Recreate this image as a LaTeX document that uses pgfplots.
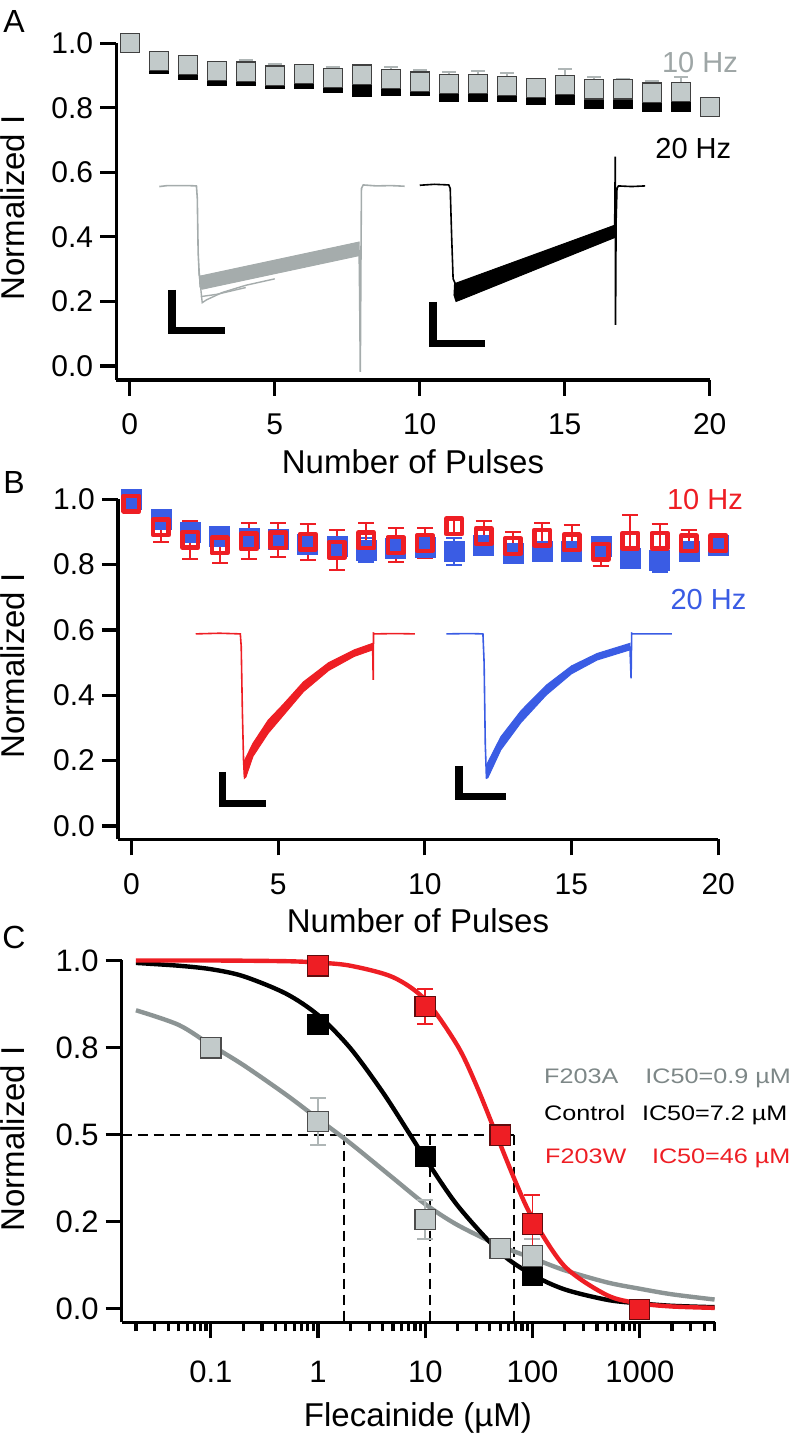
\documentclass[border=0pt]{standalone}
\usepackage{pgfplots}
\pgfplotsset{compat=1.18}
\usepackage{fontspec}
\setmainfont{Liberation Sans}
\definecolor{gfill}{RGB}{194,202,202}
\definecolor{gtext}{RGB}{158,166,166}
\definecolor{gtrace}{RGB}{165,172,172}
\definecolor{gerr}{RGB}{175,182,182}
\definecolor{gcurve}{RGB}{140,148,148}
\definecolor{glab}{RGB}{125,135,135}
\definecolor{myred}{RGB}{238,30,36}
\definecolor{myblue}{RGB}{58,92,228}
\pgfplotsset{
  panel/.style={
    scale only axis, clip=false, anchor=south west,
    axis lines=left, axis line style={-, line width=1.6pt},
    tick align=outside, major tick length=8pt, minor tick length=4.5pt,
    tick style={line width=1.6pt, black},
    tick label style={font=\fontsize{15}{18}\selectfont},
    xticklabels={},
  },
}
\newcommand{\lab}{\fontsize{16.5}{19}\selectfont}
\newcommand{\tl}{\fontsize{15}{18}\selectfont}
\newcommand{\tlc}{\fontsize{15.5}{18}\selectfont}
\begin{document}
\begin{tikzpicture}
\useasboundingbox (0pt,0pt) rectangle (396.5pt,716.5pt);
% ================= Panel A =================
\begin{axis}[panel, at={(58.1pt,526.5pt)}, width=296.8pt, height=168.35pt,
  xmin=-0.466, xmax=20, ymin=-0.0434, ymax=1,
  xtick={0,5,10,15,20},
  ytick={0,0.2,0.4,0.6,0.8,1}, yticklabels={0.0,0.2,0.4,0.6,0.8,1.0}]
% gray trace
\addplot[gtrace, line width=0.8pt] coordinates {(1.02,0.556) (1.3,0.559) (2.0,0.559) (2.3,0.558) (2.33,0.52) (2.36,0.35) (2.4,0.28) (2.5,0.272) (3.5,0.292) (5,0.322) (6.5,0.353) (7.91,0.382)};
\addplot[gtrace, fill=gtrace, line width=0.5pt] coordinates {(2.4,0.278) (7.91,0.384) (7.91,0.342) (2.5,0.238) (2.42,0.245)} -- cycle;
\addplot[gtrace, line width=0.7pt] coordinates {(2.38,0.3) (2.5,0.196) (2.65,0.205) (3.2,0.228) (4.0,0.25) (5,0.27)};
\addplot[gtrace, line width=0.7pt] coordinates {(2.45,0.215) (3,0.222) (4,0.243)};
\addplot[gtrace, line width=0.8pt] coordinates {(7.91,0.36) (7.93,0.2) (7.95,-0.018) (7.97,0.3) (7.99,0.55) (8.05,0.561) (8.5,0.558) (9.0,0.559) (9.48,0.557)};
% black trace
\addplot[black, line width=0.8pt] coordinates {(10.0,0.56) (10.5,0.563) (11.0,0.561) (11.05,0.55) (11.1,0.4) (11.15,0.27) (11.25,0.25) (13,0.31) (15,0.375) (16.72,0.434)};
\addplot[black, fill=black, line width=0.5pt] coordinates {(11.2,0.255) (16.72,0.436) (16.72,0.398) (11.4,0.205) (11.25,0.2) (11.18,0.22)} -- cycle;
\addplot[black, line width=0.8pt] coordinates {(16.72,0.42) (16.74,0.649) (16.75,0.127) (16.77,0.45) (16.8,0.55) (16.85,0.558) (17.3,0.556) (17.77,0.558)};
% scale bars
\addplot[black, line width=3.75pt, line join=miter] coordinates {(1.46,0.2355) (1.46,0.1106) (3.29,0.1106)};
\addplot[black, line width=3.75pt, line join=miter] coordinates {(10.45,0.199) (10.45,0.0696) (12.24,0.0696)};
% markers 20 Hz
\addplot[only marks, mark=square*, mark size=4.8pt, mark options={fill=black, draw=black, line width=0.4pt}]
 table[row sep=\\]{x y\\ 0 1.000\\ 1 0.935\\ 2 0.917\\ 3 0.900\\ 4 0.898\\ 5 0.890\\ 6 0.890\\ 7 0.878\\ 8 0.865\\ 9 0.867\\ 10 0.867\\ 11 0.851\\ 12 0.849\\ 13 0.851\\ 14 0.841\\ 15 0.839\\ 16 0.828\\ 17 0.828\\ 18 0.818\\ 19 0.818\\};
% markers 10 Hz
\addplot[only marks, mark=square*, mark size=4.8pt, mark options={fill=gfill, draw=black!75, line width=0.6pt},
  error bars/.cd, y dir=both, y explicit, error bar style={gerr, line width=1pt}, error mark options={rotate=90, gerr, line width=1pt, mark size=3.5pt}]
 table[row sep=\\, y error index=2]{x y e\\ 0 1.000 0\\ 1 0.945 0.015\\ 2 0.933 0.015\\ 3 0.915 0.015\\ 4 0.912 0.036\\ 5 0.900 0.036\\ 6 0.904 0.015\\ 7 0.893 0.033\\ 8 0.903 0.015\\ 9 0.890 0.037\\ 10 0.881 0.035\\ 11 0.874 0.038\\ 12 0.874 0.040\\ 13 0.867 0.040\\ 14 0.862 0.015\\ 15 0.870 0.050\\ 16 0.857 0.037\\ 17 0.857 0.033\\ 18 0.847 0.037\\ 19 0.849 0.045\\ 20 0.802 0\\};
\end{axis}
% ================= Panel B =================
\begin{axis}[panel, at={(59pt,296.85pt)}, width=300.1pt, height=170pt,
  xmin=-0.46, xmax=20, ymin=-0.0407, ymax=1,
  xtick={0,5,10,15,20},
  ytick={0,0.2,0.4,0.6,0.8,1}, yticklabels={0.0,0.2,0.4,0.6,0.8,1.0}]
% red trace
\addplot[myred, line width=0.8pt] coordinates {(2.19,0.588) (3.0,0.59) (3.71,0.588) (3.74,0.55) (3.78,0.35) (3.82,0.2) (3.85,0.15)};
\addplot[myred, fill=myred, line width=0.5pt] coordinates {(3.85,0.2) (4.14,0.253) (4.66,0.324) (5.17,0.372) (5.86,0.441) (6.72,0.5) (7.59,0.539) (8.22,0.559) (8.22,0.539) (7.59,0.519) (6.72,0.476) (5.86,0.411) (5.17,0.338) (4.66,0.284) (4.14,0.213) (3.9,0.15) (3.85,0.146)} -- cycle;
\addplot[myred, line width=0.8pt] coordinates {(8.22,0.55) (8.24,0.447) (8.25,0.59) (8.3,0.588) (9.0,0.589) (9.66,0.588)};
% blue trace
\addplot[myblue, line width=0.8pt] coordinates {(10.73,0.588) (11.5,0.589) (11.98,0.588) (12.02,0.5) (12.06,0.25) (12.1,0.146)};
\addplot[myblue, fill=myblue, line width=0.5pt] coordinates {(12.12,0.19) (12.59,0.273) (13.28,0.353) (14.14,0.431) (15.0,0.49) (15.87,0.528) (16.99,0.559) (16.99,0.539) (15.87,0.508) (15.0,0.466) (14.14,0.401) (13.28,0.317) (12.59,0.233) (12.15,0.148) (12.1,0.146)} -- cycle;
\addplot[myblue, line width=0.8pt] coordinates {(16.99,0.55) (17.03,0.452) (17.05,0.59) (17.1,0.588) (18.42,0.588)};
% scale bars
\addplot[black, line width=3.75pt, line join=miter] coordinates {(3.10,0.166) (3.10,0.0685) (4.57,0.0685)};
\addplot[black, line width=3.75pt, line join=miter] coordinates {(11.17,0.184) (11.17,0.091) (12.76,0.091)};
% blue markers (20 Hz)
\addplot[only marks, mark=square*, mark size=5pt, mark options={fill=myblue, draw=myblue, line width=0.2pt},
  error bars/.cd, y dir=both, y explicit, error bar style={myblue, line width=1pt}, error mark options={rotate=90, myblue, line width=1pt, mark size=4pt}]
 table[row sep=\\, y error index=2]{x y e\\ 0 1.0 0.015\\ 1 0.939 0.02\\ 2 0.898 0.02\\ 3 0.886 0.02\\ 4 0.881 0.02\\ 5 0.878 0.02\\ 6 0.863 0.02\\ 7 0.855 0.02\\ 8 0.845 0.036\\ 9 0.850 0.02\\ 10 0.852 0.02\\ 11 0.840 0.042\\ 12 0.860 0.02\\ 13 0.835 0.02\\ 14 0.842 0.02\\ 15 0.842 0.02\\ 16 0.855 0.02\\ 17 0.820 0.02\\ 18 0.814 0.036\\ 19 0.840 0.02\\ 20 0.860 0.015\\};
% red markers (10 Hz)
\addplot[only marks, mark=square, mark size=3.9pt, mark options={draw=myred, line width=2.2pt, line join=round},
  error bars/.cd, y dir=both, y explicit, error bar style={myred, line width=1pt}, error mark options={rotate=90, myred, line width=1pt, mark size=4pt}]
 table[row sep=\\, y error index=2]{x y e\\ 0 0.987 0.015\\ 1 0.914 0.045\\ 2 0.876 0.059\\ 3 0.859 0.054\\ 4 0.871 0.055\\ 5 0.875 0.052\\ 6 0.870 0.055\\ 7 0.845 0.060\\ 8 0.874 0.052\\ 9 0.860 0.052\\ 10 0.866 0.046\\ 11 0.917 0.020\\ 12 0.887 0.047\\ 13 0.857 0.043\\ 14 0.883 0.045\\ 15 0.868 0.052\\ 16 0.840 0.044\\ 17 0.873 0.078\\ 18 0.873 0.052\\ 19 0.865 0.042\\ 20 0.865 0.015\\};
\end{axis}
% ================= Panel C =================
\begin{axis}[panel, at={(60.85pt,55.35pt)}, width=296.45pt, height=180.9pt,
  xmode=log, xmin=0.01472, xmax=5000, ymin=-0.0394, ymax=1,
  xtick={0.1,1,10,100,1000},
  minor xtick={0.02,0.03,0.04,0.05,0.06,0.07,0.08,0.09,0.2,0.3,0.4,0.5,0.6,0.7,0.8,0.9,2,3,4,5,6,7,8,9,20,30,40,50,60,70,80,90,200,300,400,500,600,700,800,900,2000,3000,4000,5000},
  ytick={0,0.25,0.5,0.75,1}, yticklabels={0.0,0.2,0.5,0.8,1.0},
  tick label style={font=\fontsize{15.5}{18}\selectfont}]
% dashed guide lines
\addplot[black, line width=1pt, dash pattern=on 5pt off 3pt] coordinates {(0.01472,0.5) (67,0.5)};
\addplot[black, line width=1pt, dash pattern=on 5pt off 3pt] coordinates {(1.75,0.5) (1.75,-0.0394)};
\addplot[black, line width=1pt, dash pattern=on 5pt off 3pt] coordinates {(11.1,0.5) (11.1,-0.0394)};
\addplot[black, line width=1pt, dash pattern=on 5pt off 3pt] coordinates {(67,0.5) (67,-0.0394)};
% fitted curves
\addplot[gcurve, line width=2.2pt, smooth] coordinates {(0.02,0.857) (0.05,0.815) (0.1,0.757) (0.2,0.7) (0.5,0.615) (1,0.545) (2,0.475) (5,0.375) (10,0.3) (20,0.24) (50,0.18) (100,0.145) (200,0.11) (500,0.075) (1000,0.057) (2000,0.041) (5000,0.026)};
\addplot[black, line width=2.2pt, smooth] coordinates {(0.02,0.993) (0.05,0.985) (0.1,0.975) (0.2,0.955) (0.5,0.905) (1,0.843) (2,0.748) (4,0.622) (7.2,0.5) (10,0.431) (20,0.296) (50,0.161) (100,0.097) (200,0.055) (500,0.025) (1000,0.015) (2000,0.008) (5000,0.004)};
\addplot[myred, line width=2.2pt, smooth] coordinates {(0.02,1.0) (0.1,1.0) (0.5,0.998) (1,0.994) (2,0.985) (5,0.952) (10,0.887) (20,0.755) (30,0.641) (46,0.5) (70,0.362) (100,0.26) (200,0.121) (500,0.038) (1000,0.015) (2000,0.006) (5000,0.002)};
% markers
\addplot[only marks, mark=square*, mark size=5.1pt, mark options={fill=black, draw=black, line width=0.4pt}]
 table[row sep=\\]{x y\\ 1 0.817\\ 10 0.437\\ 100 0.095\\};
\addplot[only marks, mark=square*, mark size=5.1pt, mark options={fill=gfill, draw=black!70, line width=0.6pt},
  error bars/.cd, y dir=both, y explicit, error bar style={gerr, line width=0.9pt}, error mark options={rotate=90, gerr, line width=0.9pt, mark size=4pt}]
 table[row sep=\\, y error index=2]{x y e\\ 0.1 0.749 0\\ 1 0.537 0.067\\ 10 0.256 0.057\\ 50 0.173 0\\ 100 0.151 0.05\\};
\addplot[only marks, mark=square*, mark size=5.1pt, mark options={fill=myred, draw=black!60!myred, line width=0.6pt},
  error bars/.cd, y dir=both, y explicit, error bar style={myred, line width=0.9pt}, error mark options={rotate=90, myred, line width=0.9pt, mark size=4pt}]
 table[row sep=\\, y error index=2]{x y e\\ 1 0.985 0\\ 10 0.868 0.05\\ 50 0.498 0.012\\ 100 0.243 0.083\\ 1000 -0.003 0\\};
\end{axis}
% ================= x tick labels =================
\foreach \xx/\tt in {64.85/0,137.35/5,209.85/10,282.35/15,354.85/20}
  \node[font=\tl, anchor=base, inner sep=0pt] at (\xx pt,499pt) {\tt};
\foreach \xx/\tt in {65.75/0,139.1/5,212.4/10,285.7/15,359.1/20}
  \node[font=\tl, anchor=base, inner sep=0pt] at (\xx pt,269pt) {\tt};
\foreach \xx/\tt in {105.45/0.1,159.05/1,212.65/10,266.3/100,319.9/1000}
  \node[font=\tlc, anchor=base, inner sep=0pt] at (\xx pt,25.35pt) {\tt};
% ================= Text =================
\node[font=\fontsize{16}{19}\selectfont] at (7pt,705.75pt) {A};
\node[font=\fontsize{16}{19}\selectfont] at (7pt,475pt) {B};
\node[font=\fontsize{16}{19}\selectfont] at (7pt,248pt) {C};
\node[font=\lab, rotate=90] at (6.5pt,612.5pt) {Normalized I};
\node[font=\lab, rotate=90] at (6.5pt,383.5pt) {Normalized I};
\node[font=\lab, rotate=90] at (6.5pt,147pt) {Normalized I};
\node[font=\lab, anchor=base, inner sep=0pt] at (206.5pt,479.8pt) {Number of Pulses};
\node[font=\lab, anchor=base, inner sep=0pt] at (209pt,250.35pt) {Number of Pulses};
\node[font=\lab, anchor=base, inner sep=0pt] at (209pt,3.4pt) {Flecainide (µM)};
\node[font=\fontsize{14.5}{17}\selectfont, text=gtext, anchor=base west, inner sep=0pt] at (330.85pt,680.15pt) {10 Hz};
\node[font=\fontsize{14.5}{17}\selectfont, anchor=base west, inner sep=0pt] at (327.5pt,637.35pt) {20 Hz};
\node[font=\fontsize{14.5}{17}\selectfont, text=myred, anchor=base west, inner sep=0pt] at (333.35pt,461.5pt) {10 Hz};
\node[font=\fontsize{14.5}{17}\selectfont, text=myblue, anchor=base west, inner sep=0pt] at (335.1pt,411.5pt) {20 Hz};
\node[font=\fontsize{10.5}{13}\selectfont, text=glab, anchor=base west, inner sep=0pt] at (271.85pt,174.85pt) {\scalebox{1.2}[1]{F203A}};
\node[font=\fontsize{10.5}{13}\selectfont, text=glab, anchor=base west, inner sep=0pt] at (322.5pt,174.85pt) {\scalebox{1.2}[1]{IC50=0.9 µM}};
\node[font=\fontsize{10.5}{13}\selectfont, anchor=base west, inner sep=0pt] at (271.85pt,156.15pt) {\scalebox{1.2}[1]{Control}};
\node[font=\fontsize{10.5}{13}\selectfont, anchor=base west, inner sep=0pt] at (320.8pt,156.15pt) {\scalebox{1.2}[1]{IC50=7.2 µM}};
\node[font=\fontsize{10.5}{13}\selectfont, text=myred, anchor=base west, inner sep=0pt] at (272.4pt,134.85pt) {\scalebox{1.2}[1]{F203W}};
\node[font=\fontsize{10.5}{13}\selectfont, text=myred, anchor=base west, inner sep=0pt] at (325.8pt,134.85pt) {\scalebox{1.2}[1]{IC50=46 µM}};
\end{tikzpicture}
\end{document}
